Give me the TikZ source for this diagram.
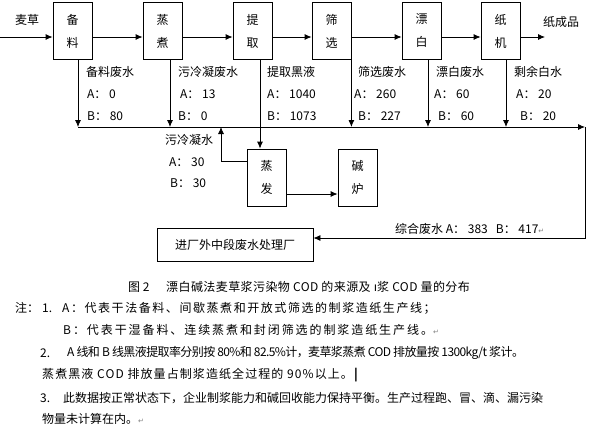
\documentclass[tikz,border=0pt]{standalone}
\usepackage{fontspec}
\setmainfont{Noto Sans CJK SC}
\newfontfamily\retfont{DejaVu Sans}
\usepackage{tikz}
\usetikzlibrary{arrows.meta}
\newcommand{\retmark}{{\retfont\color{gray}\fontsize{7}{8}\selectfont ↵}}

\begin{document}
\begin{tikzpicture}[x=1pt, y=-1pt,
        proc/.style={draw, line width=0.8pt, minimum width=39pt, minimum height=57pt, inner sep=0pt, align=center, font=\fontsize{12}{23}\selectfont},
        arr/.style={-{Latex[length=7pt, width=6pt]}, line width=0.8pt},
        lab/.style={anchor=west, inner sep=0pt, font=\fontsize{12}{14}\selectfont},
        note/.style={anchor=west, inner sep=0pt, font=\fontsize{12}{14}\selectfont}]
        \useasboundingbox (0,0) rectangle (593,429);

        % process boxes
        \node (bl) at (72.5,31) [proc] {备\\料};
        \node (zz) at (162.5,31) [proc] {蒸\\煮};
        \node (tq) at (252.5,31) [proc] {提\\取};
        \node (sx) at (331.5,31) [proc] {筛\\选};
        \node (pb) at (421.5,31) [proc] {漂\\白};
        \node (zj) at (500.5,31) [proc] {纸\\机};
        \node (zf) at (266.5,177.5) [proc] {蒸\\发};
        \node (jl) at (357.5,177.5) [proc] {碱\\炉};
        \node (cl) at (235,244.5) [draw, line width=0.8pt, minimum width=156pt, minimum height=33pt, inner sep=0pt, font=\fontsize{12}{14}\selectfont] {进厂外中段废水处理厂};

        % main line
        \coordinate (m) at (0,37);
        \coordinate (out) at (545,37);
        \node (mc) at (27,20) [font=\fontsize{12}{14}\selectfont] {麦草};
        \node (zcp) at (561,22) [font=\fontsize{12}{14}\selectfont] {纸成品};
        \draw[arr] (m) -- (bl.west |- m);
        \draw[arr] (bl.east |- m) -- (zz.west |- m);
        \draw[arr] (zz.east |- m) -- (tq.west |- m);
        \draw[arr] (tq.east |- m) -- (sx.west |- m);
        \draw[arr] (sx.east |- m) -- (pb.west |- m);
        \draw[arr] (pb.east |- m) -- (zj.west |- m);
        \draw[arr] (zj.east |- m) -- (out);

        % drops to the collector
        \coordinate (c) at (0,127);
        \coordinate (ce) at (585,127);
        \coordinate (cd) at (585,238);
        \draw[arr] ([xshift=5.5pt]bl.south) -- ([xshift=5.5pt]bl.south |- c);
        \draw[arr] ([xshift=7.5pt]zz.south) -- ([xshift=7.5pt]zz.south |- c);
        \draw[arr] ([xshift=7.5pt]tq.south) -- ([xshift=7.5pt]tq.south |- zf.north);
        \draw[arr] (sx.south east) -- (sx.south east |- c);
        \draw[arr] ([xshift=6.5pt]pb.south) -- ([xshift=6.5pt]pb.south |- c);
        \draw[arr] ([xshift=5.5pt]zj.south) -- ([xshift=5.5pt]zj.south |- c);
        \draw[arr] ([xshift=5.5pt]bl.south |- c) -- (ce);
        \draw[arr] (ce) -- (cd) -- (cl.east |- cd);

        % evaporation
        \coordinate (r) at (221,161);
        \coordinate (k) at (0,194);
        \draw[arr] (zf.west |- r) -- (r) -- (r |- c);
        \draw[arr] (zf.east |- k) -- (jl.west |- k);

        % labels
        \node (l1) at (86,72) [lab] {备料废水};
        \node (l1a) at (87,94) [lab] {A：~0};
        \node (l1b) at (87,116) [lab] {B：~80};
        \node (l2) at (178,72) [lab] {污冷凝废水};
        \node (l2a) at (180,94) [lab] {A：~13};
        \node (l2b) at (178,116) [lab] {B：~0};
        \node (l3) at (267,72) [lab] {提取黑液};
        \node (l3a) at (267,94) [lab] {A：~1040};
        \node (l3b) at (267,116) [lab] {B：~1073};
        \node (l4) at (358,72) [lab] {筛选废水};
        \node (l4a) at (354,94) [lab] {A：~260};
        \node (l4b) at (358,116) [lab] {B：~227};
        \node (l5) at (436,72) [lab] {漂白废水};
        \node (l5a) at (434,94) [lab] {A：~60};
        \node (l5b) at (438,116) [lab] {B：~60};
        \node (l6) at (514,72) [lab] {剩余白水};
        \node (l6a) at (516,94) [lab] {A：~20};
        \node (l6b) at (520,116) [lab] {B：~20};
        \node (l7) at (165,140) [lab] {污冷凝水};
        \node (l7a) at (169,162) [lab] {A：~30};
        \node (l7b) at (170,183) [lab] {B：~30};
        \node (l8) at (395,229) [lab] {综合废水 A：~383~~~B：~417\retmark};

        % caption and notes
        \node (capn) at (128,287) [note] {图 2};
        \node (cap) at (166,287) [note] {\addfontfeature{LetterSpace=3.5}漂白碱法麦草浆污染物 COD 的来源及 {\retfont ı}浆 COD 量的分布};
        \node (zhu) at (15,308) [note] {注：};
        \node (n1i) at (42,308) [note] {1.};
        \node (n1) at (62,308) [note] {\addfontfeature{LetterSpace=13}A：代表干法备料、间歇蒸煮和开放式筛选的制浆造纸生产线；};
        \node (n2) at (63,330) [note] {\addfontfeature{LetterSpace=16}B：代表干湿备料、连续蒸煮和封闭筛选的制浆造纸生产线。\retmark};
        \node (n3i) at (40,353) [note] {2.};
        \node (n3) at (67,353) [note] {\addfontfeature{LetterSpace=-5}A 线和 B 线黑液提取率分别按 80\%和 82.5\%计，麦草浆蒸煮 COD 排放量按 1300kg/t 浆计。};
        \node (n4) at (42,375) [note] {\addfontfeature{LetterSpace=9}蒸煮黑液 COD 排放量占制浆造纸全过程的 90\%以上。\textbf{|}};
        \node (n5i) at (40,398) [note] {3.};
        \node (n5) at (63,398) [note] {此数据按正常状态下，企业制浆能力和碱回收能力保持平衡。生产过程跑、冒、滴、漏污染};
        \node (n6) at (42,419) [note] {物量未计算在内。\retmark};
\end{tikzpicture}
\end{document}
